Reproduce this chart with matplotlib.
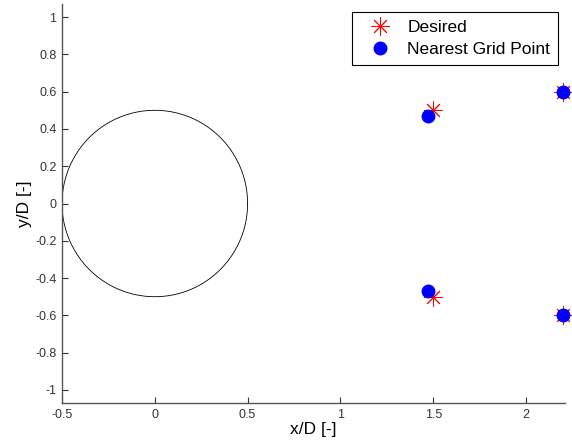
import numpy as np
import matplotlib
matplotlib.use('Agg')
import matplotlib.pyplot as plt

plt.rcParams['font.family'] = ['Liberation Sans', 'DejaVu Sans']

# desired points and the nearest grid points
desired_x = [1.5, 1.5, 2.2, 2.2]
desired_y = [0.5, -0.5, 0.6, -0.6]
grid_x = [1.47, 1.47, 2.2, 2.2]
grid_y = [0.47, -0.47, 0.6, -0.6]

# cylinder of diameter 1
radius = 0.5
theta = np.linspace(0, 2 * np.pi, 200)

fig = plt.figure(figsize=(5.72, 4.45), dpi=100)
ax = fig.add_axes([62 / 572, 42 / 445, 503 / 572, 399 / 445])

ax.plot(radius * np.cos(theta), radius * np.sin(theta), color='black', lw=0.6)
ax.plot(desired_x, desired_y, ls='none', marker=(8, 2, 0), ms=13, mec='red',
        mew=0.7, color='red', label='Desired', clip_on=False)
ax.plot(grid_x, grid_y, ls='none', marker='o', ms=9, color='blue',
        label='Nearest Grid Point', clip_on=False)

ax.set_xlim(-0.5, 2.21)
ax.set_ylim(-1.07, 1.07)
ax.set_xticks([-0.5, 0, 0.5, 1, 1.5, 2])
ax.set_xticklabels(['-0.5', '0', '0.5', '1', '1.5', '2'])
ax.set_yticks([-1, -0.8, -0.6, -0.4, -0.2, 0, 0.2, 0.4, 0.6, 0.8, 1])
ax.set_yticklabels(['-1', '-0.8', '-0.6', '-0.4', '-0.2', '0', '0.2', '0.4',
                    '0.6', '0.8', '1'])
ax.tick_params(direction='in', length=4, width=0.8, labelsize=9,
               colors='#333333', labelcolor='#333333', pad=4)

ax.spines['top'].set_visible(False)
ax.spines['right'].set_visible(False)
for s in ['left', 'bottom']:
    ax.spines[s].set_color('#555555')
    ax.spines[s].set_linewidth(1.0)

ax.set_xlabel('x/D [-]', fontsize=12.5, labelpad=1)
ax.set_ylabel('y/D [-]', fontsize=12.5, labelpad=2)

leg = ax.legend(loc='upper right', bbox_to_anchor=(0.986, 0.98), fontsize=12.5,
                fancybox=False, framealpha=1, edgecolor='black',
                borderpad=0.45, handletextpad=0.35, labelspacing=0.4,
                handlelength=2.4, borderaxespad=0)
leg.get_frame().set_linewidth(0.8)

fig.savefig('out.png', dpi=100)
